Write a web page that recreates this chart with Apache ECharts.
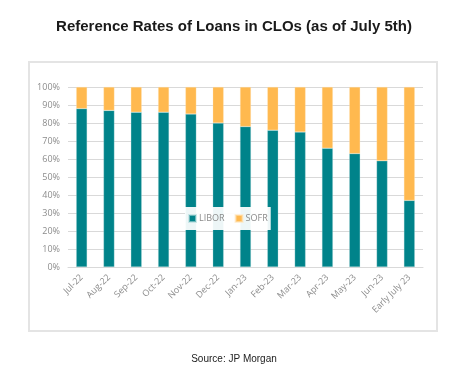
<!DOCTYPE html>
<html>
<head>
<meta charset="utf-8">
<script src="https://cdn.jsdelivr.net/npm/echarts@6/dist/echarts.min.js"></script>
<style>
html,body{margin:0;padding:0;background:#fff;}
#chart{width:468px;height:365px;}
</style>
</head>
<body>
<div id="chart"></div>
<script>
const categories = ['Jul-22','Aug-22','Sep-22','Oct-22','Nov-22','Dec-22','Jan-23','Feb-23','Mar-23','Apr-23','May-23','Jun-23','Early July 23'];
const libor = [88, 87, 86, 86, 85, 80, 78, 76, 75, 66, 63, 59, 37];
const sofr = [12, 13, 14, 14, 15, 20, 22, 24, 25, 34, 37, 41, 63];
const yTicks = [0, 10, 20, 30, 40, 50, 60, 70, 80, 90, 100];

const chart = echarts.init(document.getElementById('chart'), null, {renderer: 'canvas'});
const labelFont = '"Open Sans", "Liberation Sans", sans-serif';
chart.setOption({
  animation: false,
  backgroundColor: '#fff',
  title: [{
    text: 'Reference Rates of Loans in CLOs (as of July 5th)',
    left: 'center', top: 14,
    textStyle: {fontFamily: '"Liberation Sans", Arial, sans-serif', fontSize: 15, fontWeight: 'bold', color: '#1a1a1a'}
  }, {
    text: 'Source: JP Morgan',
    left: 'center', top: 349,
    textStyle: {fontFamily: '"Liberation Sans", Arial, sans-serif', fontSize: 10, fontWeight: 'normal', color: '#222'}
  }],
  graphic: [{
    type: 'rect', z: -1,
    shape: {x: 29, y: 62, width: 408, height: 269},
    style: {fill: 'none', stroke: '#e4e4e4', lineWidth: 2}
  }],
  legend: {
    data: ['LIBOR', 'SOFR'],
    left: 185, top: 207,
    itemWidth: 7, itemHeight: 7, itemGap: 10,
    icon: 'rect',
    padding: [7, 3],
    backgroundColor: 'rgba(255,255,255,0.93)',
    textStyle: {fontFamily: labelFont, fontSize: 9, color: '#8a8a8a', padding: [0, 0, 0, -2]}
  },
  grid: {left: 68, right: 45, top: 87, bottom: 98, containLabel: false},
  xAxis: {
    type: 'category', data: categories,
    axisLine: {lineStyle: {color: '#d9d9d9', width: 1}},
    axisTick: {show: false},
    axisLabel: {rotate: 45, interval: 0, fontFamily: labelFont, fontSize: 9, color: '#8c8c8c', margin: 9}
  },
  yAxis: {
    type: 'value', min: 0, max: 100, interval: 10,
    axisLine: {show: false}, axisTick: {show: false},
    splitLine: {lineStyle: {color: '#d9d9d9', width: 1}},
    axisLabel: {
      fontFamily: labelFont, fontSize: 9, color: '#8c8c8c', margin: 8,
      formatter: v => yTicks.includes(v) ? v + '%' : ''
    }
  },
  series: [{
    name: 'LIBOR', type: 'bar', stack: 'total', data: libor,
    barWidth: '40%',
    itemStyle: {color: '#00838A', borderColor: 'rgba(180,220,220,0.6)', borderWidth: 0.5}
  }, {
    name: 'SOFR', type: 'bar', stack: 'total', data: sofr,
    barWidth: '40%',
    itemStyle: {color: '#FFB94F', borderColor: 'rgba(255,230,190,0.6)', borderWidth: 0.5}
  }]
});
</script>
</body>
</html>
